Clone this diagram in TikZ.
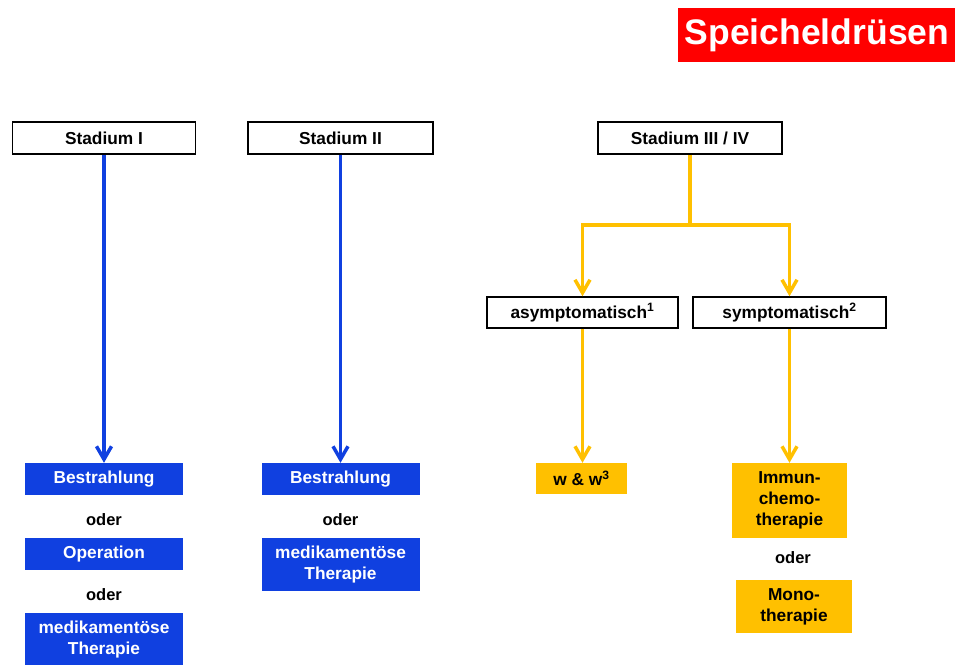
\documentclass[tikz,border=0pt]{standalone}
\usepackage{fontspec}
\setmainfont{Liberation Sans}
\usetikzlibrary{arrows.meta}
\definecolor{therablue}{RGB}{16,64,224}
\definecolor{therayellow}{RGB}{255,192,0}
\definecolor{titlered}{RGB}{255,0,0}
\begin{document}
\begin{tikzpicture}[
    x=1pt, y=-1pt,
    every node/.style={font=\fontsize{17.3}{21}\selectfont\bfseries, align=center, inner sep=0pt},
    stage/.style={rectangle, draw=black, line width=1.5pt, fill=white, minimum height=32pt},
    bluebox/.style={rectangle, fill=therablue, text=white, minimum width=158pt},
    yellowbox/.style={rectangle, fill=therayellow, text=black},
    oder/.style={font=\fontsize{16.5}{21}\selectfont\bfseries},
    blueline/.style={-{Straight Barb[length=13pt,width=15pt]}, line width=3.5pt, draw=therablue},
    yellowline/.style={line width=3.5pt, draw=therayellow},
    yellowarrow/.style={yellowline, -{Straight Barb[length=13pt,width=15pt]}}
]
    \useasboundingbox (0,0) rectangle (955,664);

    \node[rectangle, fill=titlered, text=white, minimum width=278pt, minimum height=54pt,
          font=\fontsize{35.5}{40}\selectfont\bfseries] (title) at (817,35) {Speicheldrüsen};

    % stages
    \node[stage, minimum width=183pt] (s1) at (104,138) {Stadium I};
    \node[stage, minimum width=185pt] (s2) at (340.5,138) {Stadium II};
    \node[stage, minimum width=184pt] (s3) at (690,138) {Stadium III / IV};

    \node[stage, minimum width=191pt, minimum height=31pt] (asym) at (582.5,312.5) {asymptomatisch\textsuperscript{1}};
    \node[stage, minimum width=193pt, minimum height=31pt] (sym) at (789.5,312.5) {symptomatisch\textsuperscript{2}};

    % stadium I
    \node[bluebox, minimum height=32pt] (bestr1) at (104,479) {Bestrahlung};
    \node[oder] (oder1) at (104,520) {oder};
    \node[bluebox, minimum height=32pt] (op1) at (104,554) {Operation};
    \node[oder] (oder2) at (104,595) {oder};
    \node[bluebox, minimum height=54pt] (med1) at (104,640) {medikamentöse\\Therapie};

    % stadium II
    \node[bluebox, minimum height=32pt] (bestr2) at (340.5,479) {Bestrahlung};
    \node[oder] (oder3) at (340.5,520) {oder};
    \node[bluebox, minimum height=53pt] (med2) at (340.5,564.5) {medikamentöse\\Therapie};

    % stadium III / IV
    \node[yellowbox, minimum width=91pt, minimum height=31pt] (ww) at (581.5,478.5) {w \& w\textsuperscript{3}};
    \node[yellowbox, minimum width=115pt, minimum height=75pt] (immun) at (789.5,500.5) {Immun-\\chemo-\\therapie};
    \node[oder] (oder4) at (793,558) {oder};
    \node[yellowbox, minimum width=116pt, minimum height=53pt] (mono) at (794,606.5) {Mono-\\therapie};

    \coordinate (split) at (690,225);

    \draw[blueline] (s1.south) -- (bestr1.north);
    \draw[blueline] (s2.south) -- (s2.south |- bestr2.north);

    \draw[yellowline] (s3.south) -- (split);
    \draw[yellowarrow] (split) -| (asym.north);
    \draw[yellowarrow] (split) -| (sym.north);
    \draw[yellowarrow] (asym.south) -- (asym.south |- ww.north);
    \draw[yellowarrow] (sym.south) -- (sym.south |- immun.north);
\end{tikzpicture}
\end{document}
